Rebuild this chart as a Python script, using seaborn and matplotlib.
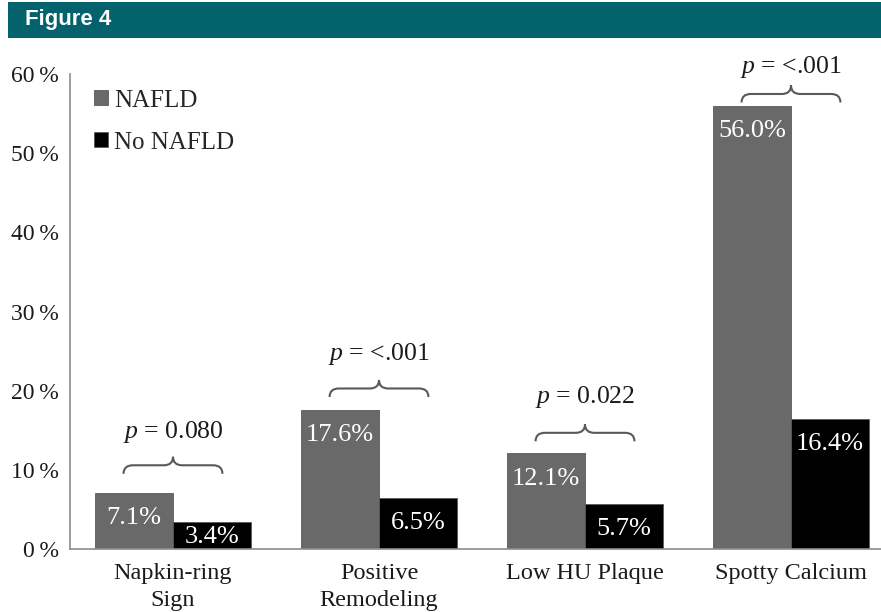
import matplotlib
matplotlib.use("Agg")
import matplotlib.pyplot as plt
from matplotlib.patches import Rectangle, PathPatch
from matplotlib.path import Path
import seaborn as sns
import pandas as pd

# data
categories = ["Napkin-ring\nSign", "Positive\nRemodeling", "Low HU Plaque", "Spotty Calcium"]
groups = ["NAFLD", "No NAFLD"]
nafld = [7.1, 17.6, 12.1, 56.0]
no_nafld = [3.4, 6.5, 5.7, 16.4]
p_values = ["0.080", "<.001", "0.022", "<.001"]

# where the braces / p labels sit (in % units)
brace_base = [9.5, 19.2, 13.6, 56.4]
p_text_y = [14.8, 24.6, 19.2, 60.9]

sns.set_style("white")
plt.rcParams["font.family"] = ["Liberation Serif", "DejaVu Serif"]
plt.rcParams["mathtext.fontset"] = "custom"
plt.rcParams["mathtext.rm"] = "Liberation Serif"
plt.rcParams["mathtext.it"] = "Liberation Serif:italic"

df = pd.DataFrame({
    "category": categories * 2,
    "group": [groups[0]] * 4 + [groups[1]] * 4,
    "value": nafld + no_nafld,
})

fig = plt.figure(figsize=(8.81, 6.12), dpi=100)

# header band
fig.patches.append(Rectangle((8 / 881, 1 - 38 / 612), 1, 36 / 612, transform=fig.transFigure,
                             facecolor="#03626b", edgecolor="none", zorder=0))
fig.text(25 / 881, 1 - 20 / 612, "Figure 4", family="Liberation Sans", weight="bold",
         fontsize=16, color="white", va="center", ha="left")

ax = fig.add_axes([70 / 881, 63 / 612, 824 / 881, 475 / 612])
sns.barplot(data=df, x="category", y="value", hue="group", hue_order=groups,
            palette={"NAFLD": "#696969", "No NAFLD": "#000000"}, width=0.76,
            errorbar=None, edgecolor="#5a5a5a", linewidth=0.6, ax=ax)

ax.set_xlim(-0.5, 3.5)
ax.set_ylim(0, 60)
ax.set_yticks(range(0, 61, 10))
ax.set_yticklabels([f"{v}\u2009%" for v in range(0, 61, 10)], fontsize=17, color="#1a1a1a")
ax.set_xlabel("")
ax.set_ylabel("")
ax.tick_params(axis="y", length=5, color="#8c8c8c", width=1, pad=3)
ax.tick_params(axis="x", length=0, pad=10, labelsize=17.5, colors="#1a1a1a")
ax.set_xticks([0.5, 1.5, 2.5], minor=True)
ax.tick_params(axis="x", which="minor", length=8, color="#8c8c8c", width=1)
for lbl in ax.get_xticklabels():
    lbl.set_linespacing(1.4)

for side in ["top", "right"]:
    ax.spines[side].set_visible(False)
for side in ["left", "bottom"]:
    ax.spines[side].set_color("#8c8c8c")
    ax.spines[side].set_linewidth(1.2)

# value labels inside bars
for i in range(len(categories)):
    for v, dx in [(nafld[i], -0.19), (no_nafld[i], 0.19)]:
        ax.text(i + dx, max(v - 3.2, 1.5), f"{v:.1f}%", ha="center", va="center",
                color="white", fontsize=19)


def brace(x0, x1, yb, h, a=0.045):
    xc = (x0 + x1) / 2
    ym = yb + h * 0.5
    yt = yb + h
    verts = [(x0, yb), (x0, ym), (x0 + a, ym), (xc - a, ym), (xc, ym), (xc, yt),
             (xc, ym), (xc + a, ym), (x1 - a, ym), (x1, ym), (x1, yb)]
    codes = [Path.MOVETO, Path.CURVE3, Path.CURVE3, Path.LINETO, Path.CURVE3, Path.CURVE3,
             Path.CURVE3, Path.CURVE3, Path.LINETO, Path.CURVE3, Path.CURVE3]
    ax.add_patch(PathPatch(Path(verts, codes), facecolor="none", edgecolor="#595959",
                           lw=1.5, clip_on=False))


for i in range(len(categories)):
    brace(i - 0.24, i + 0.24, brace_base[i], 2.15)
    ax.text(i, p_text_y[i], f"$p$ = {p_values[i]}", ha="center", va="center",
            fontsize=18.5, color="#1a1a1a", clip_on=False)

handles, labels = ax.get_legend_handles_labels()
ax.legend(handles, labels, loc="upper left", bbox_to_anchor=(0.017, 0.988), frameon=False,
          fontsize=18, handlelength=0.55, handleheight=0.55, handletextpad=0.25,
          labelspacing=0.8, borderaxespad=0)

fig.savefig("out.png", dpi=100)
